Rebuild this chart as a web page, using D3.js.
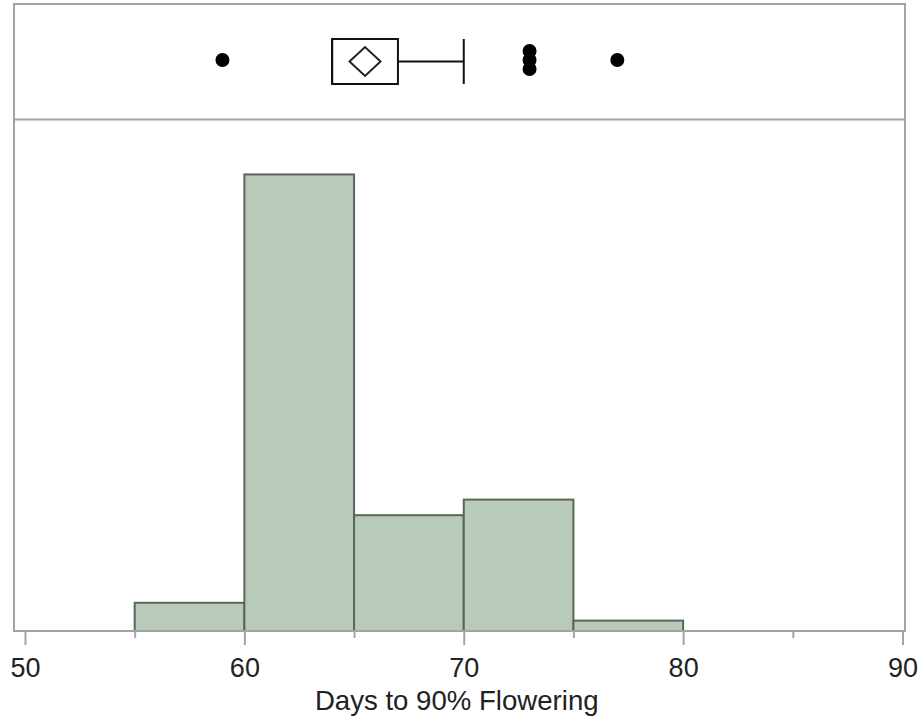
<!DOCTYPE html>
<html>
<head>
<meta charset="utf-8">
<script src="https://cdn.jsdelivr.net/npm/d3@7"></script>
<style>
  body { margin: 0; background: #fff; }
  text { font-family: "Liberation Sans", Arial, Helvetica, sans-serif; fill: #222; }
</style>
</head>
<body>
<div id="canvas"></div>
<script>
// histogram bins (days) and percent of plants in each bin
var binEdges = [55, 60, 65, 70, 75, 80];
var binPercent = [3.8, 61.5, 15.6, 17.7, 1.4];

// box plot summary
var q1 = 64, median = 64, q3 = 67, mean = 65.5;
var whiskerLow = 64, whiskerHigh = 70;
var outliers = [59, 73, 73, 73, 77];

var majorTicks = [50, 60, 70, 80, 90];
var minorTicks = [55, 65, 75, 85];
var xTitle = 'Days to 90% Flowering';

// layout
var W = 921, H = 723;
var frame = {l: 14, r: 905, t: 4, mid: 119.5, b: 631};

var svg = d3.select('#canvas')
    .append('svg')
    .attr('width', W)
    .attr('height', H);

var x = d3.scaleLinear()
    .domain([50, 90])
    .range([25, 902.5]);

var y = d3.scaleLinear()
    .domain([0, 68.9])
    .range([frame.b, frame.mid]);

var bins = binPercent.map(function(p, i){
    return {x0: binEdges[i], x1: binEdges[i + 1], pct: p};
});

//histogram bars
svg.append('g').selectAll('rect')
    .data(bins)
    .enter()
    .append('rect')
    .attr('x', function(d){ return x(d.x0); })
    .attr('y', function(d){ return y(d.pct); })
    .attr('width', function(d){ return x(d.x1) - x(d.x0); })
    .attr('height', function(d){ return y(0) - y(d.pct); })
    .attr('fill', '#b8cab9')
    .attr('stroke', '#5a665a')
    .attr('stroke-width', 2);

//frame + panel divider
var gray = '#a4a4a4';
svg.append('rect')
    .attr('x', frame.l).attr('y', frame.t)
    .attr('width', frame.r - frame.l)
    .attr('height', frame.b - frame.t)
    .attr('fill', 'none')
    .attr('stroke', gray)
    .attr('stroke-width', 2);
svg.append('line')
    .attr('x1', frame.l).attr('x2', frame.r)
    .attr('y1', frame.mid).attr('y2', frame.mid)
    .attr('stroke', gray)
    .attr('stroke-width', 2);

//x axis: major and minor ticks
var axisMajor = d3.axisBottom(x)
    .tickValues(majorTicks)
    .tickSize(14)
    .tickSizeOuter(0)
    .tickPadding(13);
var axisMinor = d3.axisBottom(x)
    .tickValues(minorTicks)
    .tickSize(7)
    .tickSizeOuter(0)
    .tickFormat('');

var gMaj = svg.append('g')
    .attr('transform', 'translate(0,' + frame.b + ')')
    .call(axisMajor);
var gMin = svg.append('g')
    .attr('transform', 'translate(0,' + frame.b + ')')
    .call(axisMinor);

[gMaj, gMin].forEach(function(g){
    g.select('.domain').remove();
    g.selectAll('.tick line').attr('stroke', gray).attr('stroke-width', 2);
});
gMaj.selectAll('.tick text')
    .attr('font-size', 27)
    .attr('font-family', '"Liberation Sans", Arial, sans-serif')
    .attr('fill', '#222');

svg.append('text')
    .attr('x', x(70) - 7)
    .attr('y', 710)
    .attr('text-anchor', 'middle')
    .attr('font-size', 27.6)
    .text(xTitle);

//box plot
var cy = 61.5, halfH = 22.5;
var box = svg.append('g');

box.append('line')
    .attr('x1', x(q3)).attr('x2', x(whiskerHigh))
    .attr('y1', cy).attr('y2', cy)
    .attr('stroke', '#111').attr('stroke-width', 2);
box.append('line')
    .attr('x1', x(whiskerHigh)).attr('x2', x(whiskerHigh))
    .attr('y1', cy - halfH).attr('y2', cy + halfH)
    .attr('stroke', '#111').attr('stroke-width', 2);
box.append('line')
    .attr('x1', x(whiskerLow)).attr('x2', x(q1))
    .attr('y1', cy).attr('y2', cy)
    .attr('stroke', '#111').attr('stroke-width', 2);
box.append('rect')
    .attr('x', x(q1)).attr('y', cy - halfH)
    .attr('width', x(q3) - x(q1))
    .attr('height', 2 * halfH)
    .attr('fill', 'none')
    .attr('stroke', '#111').attr('stroke-width', 2);
box.append('line')
    .attr('x1', x(median)).attr('x2', x(median))
    .attr('y1', cy - halfH).attr('y2', cy + halfH)
    .attr('stroke', '#111').attr('stroke-width', 2);

// mean diamond
var dx = 15.5, dy = 14.5, mx = x(mean);
box.append('path')
    .attr('d', 'M' + (mx - dx) + ',' + cy + 'L' + mx + ',' + (cy - dy) +
               'L' + (mx + dx) + ',' + cy + 'L' + mx + ',' + (cy + dy) + 'Z')
    .attr('fill', 'none')
    .attr('stroke', '#222').attr('stroke-width', 2);

// outliers, duplicates stacked
var counts = {};
var outPts = outliers.map(function(v){
    counts[v] = (counts[v] || 0) + 1;
    return {v: v, k: counts[v] - 1};
});
box.selectAll('circle')
    .data(outPts)
    .enter()
    .append('circle')
    .attr('cx', function(d){ return x(d.v); })
    .attr('cy', function(d){
        var n = counts[d.v];
        return cy - 1.5 + (d.k - (n - 1) / 2) * 9;
    })
    .attr('r', 7)
    .attr('fill', '#000');
</script>
</body>
</html>
